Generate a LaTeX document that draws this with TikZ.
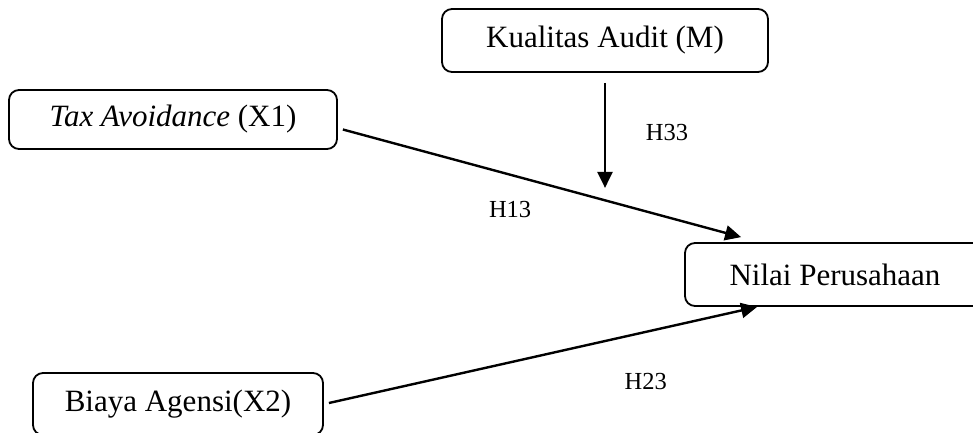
\documentclass[tikz,border=0pt]{standalone}
\usepackage{fontspec}
\setmainfont{Liberation Serif}
\usepackage{tikz}
\usetikzlibrary{arrows.meta,positioning,calc}

\begin{document}
\begin{tikzpicture}[x=1pt, y=-1pt, ->, >={Triangle[length=16pt,width=15pt]}, line width=2.4pt,
    every node/.style={font=\fontsize{31}{36}\selectfont},
    varbox/.style={draw, line width=1.8pt, rounded corners=10pt, inner sep=0pt},
    hyp/.style={font=\fontsize{24.5}{28}\selectfont}]
  \clip (0,0) rectangle (973,432);
  \node[varbox, minimum width=326pt, minimum height=63pt] (Audit) at (605,40.5) {Kualitas Audit (M)};
  \node[varbox, minimum width=328pt, minimum height=59pt] (Tax) at (173,119.5) {\textit{Tax Avoidance} (X1)};
  \node[varbox, minimum width=300pt, minimum height=63pt] (Nilai) at (835,274.5) {Nilai Perusahaan};
  \node[varbox, minimum width=290pt, minimum height=62pt] (Biaya) at (178,404) {Biaya Agensi(X2)};
  \coordinate (Mod) at ($(Audit.south)+(0,115)$);

  \path
    ($(Tax.east)+(5,10)$) edge node [hyp, pos=0.42, yshift=-35pt] {H13} ($(Nilai.north west)+(57,-5)$)
    ($(Biaya.east)+(5,-1)$) edge node [hyp, pos=0.74, yshift=-50pt] {H23} ($(Nilai.south west)+(73,0)$)
    ($(Audit.south)+(0,10)$) edge node [hyp, pos=0.47, xshift=62pt] {H33} (Mod);
\end{tikzpicture}
\end{document}
